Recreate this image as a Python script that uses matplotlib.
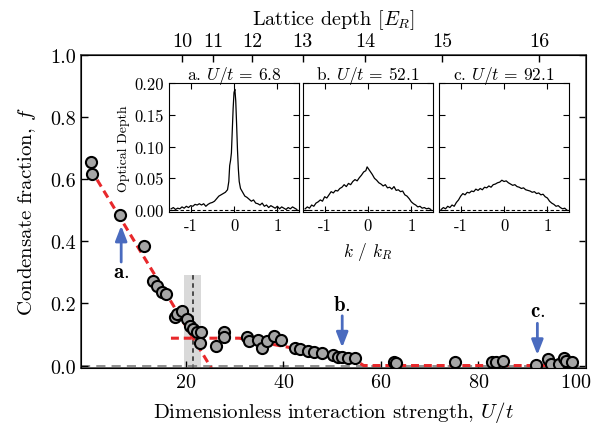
import matplotlib
matplotlib.use('Agg')
import matplotlib.pyplot as plt
from matplotlib.ticker import FixedLocator, FixedFormatter

plt.rcParams['font.family'] = 'serif'
plt.rcParams['font.serif'] = ['cmr10', 'DejaVu Serif']
plt.rcParams['mathtext.fontset'] = 'cm'
plt.rcParams['axes.unicode_minus'] = False
plt.rcParams['axes.formatter.use_mathtext'] = True

# condensate fraction vs U/t
u_data = [0.55, 0.75, 6.6, 11.5, 13.4, 14.1, 15.1, 16.0, 17.8, 18.2, 19.2, 20.3,
          20.9, 21.6, 22.3, 23.1, 23.0, 26.2, 27.9, 27.9, 32.5, 32.9, 34.9, 35.6,
          36.6, 38.1, 39.5, 42.4, 43.4, 45.1, 46.3, 47.9, 50.3, 51.3, 52.0, 53.3,
          54.7, 62.8, 63.2, 75.3, 82.7, 83.6, 85.0, 91.9, 94.3, 94.8, 96.6, 97.5,
          97.9, 99.1]
f_data = [0.654, 0.616, 0.484, 0.385, 0.273, 0.256, 0.236, 0.231, 0.157, 0.166, 0.176, 0.150,
          0.128, 0.117, 0.107, 0.109, 0.073, 0.064, 0.107, 0.091, 0.091, 0.080, 0.083, 0.058,
          0.080, 0.096, 0.083, 0.058, 0.053, 0.047, 0.044, 0.039, 0.034, 0.029, 0.026, 0.023,
          0.023, 0.010, 0.007, 0.010, 0.012, 0.013, 0.014, 0.002, 0.021, 0.004, 0.004, 0.023,
          0.015, 0.012]

# fits
fit1_u = [0.5, 26.0]
fit1_f = [0.633, -0.027]
fit2_u = [17.0, 31.0, 54.5, 56.5, 99.5]
fit2_f = [0.088, 0.088, 0.020, 0.0, 0.0]

# critical point and uncertainty band
u_crit = 21.45
band_lo, band_hi, band_top = 19.7, 23.2, 0.29

# lattice depth axis
depth_pos = [19.3, 25.7, 33.7, 44.0, 56.8, 72.6, 92.5]
depth_lab = ['10', '11', '12', '13', '14', '15', '16']

# arrows to the insets
arrow_u = [6.8, 52.1, 92.1]
arrow_tail = [0.333, 0.160, 0.136]
arrow_head = [0.450, 0.058, 0.034]
arrow_txt = [r'$\mathbf{a.}$', r'$\mathbf{b.}$', r'$\mathbf{c.}$']
arrow_txt_f = [0.30, 0.197, 0.176]

# inset profiles
k_a = [-1.45, -1.4, -1.35, -1.3, -1.25, -1.2, -1.15, -1.1, -1.05, -1.0, -0.95, -0.9,
       -0.85, -0.8, -0.75, -0.7, -0.65, -0.6, -0.55, -0.5, -0.45, -0.4, -0.35, -0.3,
       -0.25, -0.2, -0.15, -0.12, -0.1, -0.08, -0.06, -0.04, -0.02, 0.0, 0.02, 0.04,
       0.06, 0.08, 0.1, 0.12, 0.15, 0.2, 0.25, 0.3, 0.35, 0.4, 0.45, 0.5, 0.55, 0.6,
       0.65, 0.7, 0.75, 0.8, 0.85, 0.9, 0.95, 1.0, 1.05, 1.1, 1.15, 1.2, 1.25, 1.3,
       1.35, 1.4, 1.45]
od_a = [0.002, 0.004, 0.001, 0.003, 0.002, 0.005, 0.003, 0.006, 0.004, 0.007, 0.006, 0.009,
        0.008, 0.010, 0.008, 0.010, 0.006, 0.009, 0.011, 0.012, 0.014, 0.018, 0.022, 0.024,
        0.026, 0.028, 0.032, 0.045, 0.070, 0.078, 0.090, 0.125, 0.160, 0.185, 0.190, 0.172,
        0.135, 0.095, 0.065, 0.045, 0.034, 0.028, 0.022, 0.020, 0.017, 0.014, 0.016, 0.011,
        0.010, 0.008, 0.011, 0.006, 0.008, 0.004, 0.007, 0.005, 0.003, 0.006, 0.002, 0.005,
        0.003, 0.001, 0.004, 0.002, 0.005, 0.003, 0.001]

k_b = [-1.45, -1.4, -1.35, -1.3, -1.25, -1.2, -1.15, -1.1, -1.05, -1.0, -0.95, -0.9,
       -0.85, -0.8, -0.75, -0.7, -0.65, -0.6, -0.55, -0.5, -0.45, -0.4, -0.35, -0.3,
       -0.25, -0.2, -0.15, -0.1, -0.05, -0.02, 0.0, 0.05, 0.1, 0.15, 0.2, 0.25, 0.3,
       0.35, 0.4, 0.45, 0.5, 0.55, 0.6, 0.65, 0.7, 0.75, 0.8, 0.85, 0.9, 0.95, 1.0,
       1.05, 1.1, 1.15, 1.2, 1.25, 1.3, 1.35, 1.4, 1.45]
od_b = [0.002, 0.005, 0.003, 0.008, 0.006, 0.011, 0.013, 0.016, 0.014, 0.021, 0.019, 0.024,
        0.029, 0.027, 0.031, 0.030, 0.034, 0.036, 0.040, 0.037, 0.042, 0.040, 0.045, 0.048,
        0.046, 0.051, 0.055, 0.060, 0.062, 0.068, 0.066, 0.061, 0.056, 0.050, 0.047, 0.043,
        0.041, 0.038, 0.040, 0.035, 0.036, 0.033, 0.037, 0.031, 0.032, 0.029, 0.030, 0.024,
        0.022, 0.018, 0.013, 0.010, 0.008, 0.005, 0.006, 0.003, 0.004, 0.002, 0.003, 0.001]

k_c = [-1.45, -1.4, -1.35, -1.3, -1.25, -1.2, -1.15, -1.1, -1.05, -1.0, -0.95, -0.9,
       -0.85, -0.8, -0.75, -0.7, -0.65, -0.6, -0.55, -0.5, -0.45, -0.4, -0.35, -0.3,
       -0.25, -0.2, -0.15, -0.1, -0.05, 0.0, 0.05, 0.1, 0.15, 0.2, 0.25, 0.3, 0.35,
       0.4, 0.45, 0.5, 0.55, 0.6, 0.65, 0.7, 0.75, 0.8, 0.85, 0.9, 0.95, 1.0, 1.05,
       1.1, 1.15, 1.2, 1.25, 1.3, 1.35, 1.4, 1.45]
od_c = [0.001, 0.004, 0.002, 0.006, 0.004, 0.008, 0.006, 0.012, 0.016, 0.022, 0.026, 0.024,
        0.028, 0.027, 0.030, 0.029, 0.033, 0.031, 0.034, 0.032, 0.036, 0.035, 0.038, 0.036,
        0.040, 0.041, 0.043, 0.044, 0.047, 0.045, 0.046, 0.043, 0.041, 0.039, 0.040, 0.037,
        0.036, 0.034, 0.035, 0.032, 0.031, 0.030, 0.028, 0.029, 0.026, 0.027, 0.024, 0.025,
        0.021, 0.019, 0.014, 0.011, 0.009, 0.006, 0.007, 0.004, 0.002, 0.003, 0.0]

inset_k = [k_a, k_b, k_c]
inset_od = [od_a, od_b, od_c]
inset_titles = ['a. $U/t$ = 6.8', 'b. $U/t$ = 52.1', 'c. $U/t$ = 92.1']

red = '#e8282b'
blue = '#4a6bbf'

fig = plt.figure(figsize=(6.09, 4.31), dpi=100)
ax = fig.add_axes([0.1325, 0.1445, 0.8292, 0.7262])

ax.fill_betweenx([-0.01, band_top], band_lo, band_hi, color='#d9d9d9', lw=0, zorder=0)
ax.vlines(u_crit, -0.01, band_top, colors='0.25', linestyles=(0, (2.5, 2)), lw=1.3, zorder=1)
ax.axhline(0, color='0.45', lw=1.1, dashes=(6, 4), zorder=1)

ax.plot(fit1_u, fit1_f, color=red, lw=2.2, dashes=(2.6, 1.6), zorder=2)
ax.plot(fit2_u, fit2_f, color=red, lw=2.2, dashes=(2.6, 1.6), zorder=2)
ax.plot(u_data, f_data, 'o', ms=8, mfc='#a6a6a6', mec='black', mew=1.5, zorder=3)

for u, t0, t1, s, fy in zip(arrow_u, arrow_tail, arrow_head, arrow_txt, arrow_txt_f):
    ax.annotate('', xy=(u, t1), xytext=(u, t0),
                arrowprops=dict(arrowstyle='-|>,head_width=0.35,head_length=0.9',
                                color=blue, lw=2, shrinkA=0, shrinkB=0), zorder=4)
    ax.text(u, fy, s, ha='center', va='center', fontsize=15)

ax.set_xlim(-1.5, 102)
ax.set_ylim(-0.007, 1.0)
ax.set_xticks([20, 40, 60, 80, 100])
ax.set_yticks([0.0, 0.2, 0.4, 0.6, 0.8, 1.0])
ax.set_yticklabels(['0.0', '0.2', '0.4', '0.6', '0.8', '1.0'])
ax.tick_params(direction='in', length=5, width=1, labelsize=14.5, right=True, top=False)
ax.set_xlabel('Dimensionless interaction strength, $U/t$', fontsize=15, labelpad=6)
ax.set_ylabel('Condensate fraction, $f$', fontsize=15, labelpad=9)
for sp in ax.spines.values():
    sp.set_linewidth(1.2)
    sp.set_color('0.25')

top = ax.twiny()
top.set_xlim(ax.get_xlim())
top.xaxis.set_major_locator(FixedLocator(depth_pos))
top.xaxis.set_major_formatter(FixedFormatter(depth_lab))
top.tick_params(direction='in', length=5, width=1, labelsize=14.5)
top.set_xlabel('Lattice depth $[E_R]$', fontsize=14.5, labelpad=6)

inset_left = [0.2775, 0.4975, 0.7209]
for i in range(3):
    ins = fig.add_axes([inset_left[i], 0.5058, 0.2135, 0.2993])
    ins.plot(inset_k[i], inset_od[i], color='black', lw=0.9)
    ins.axhline(0, color='black', lw=0.8, dashes=(3, 2))
    ins.set_xlim(-1.5, 1.5)
    ins.set_ylim(-0.003, 0.2)
    ins.set_xticks([-1, 0, 1])
    ins.set_xticklabels(['-1', '0', '1'])
    ins.set_yticks([0.0, 0.05, 0.1, 0.15, 0.2])
    ins.tick_params(direction='in', length=4, width=0.8, labelsize=12,
                    top=True, right=True, pad=4)
    if i == 0:
        ins.set_yticklabels(['0.00', '0.05', '0.10', '0.15', '0.20'])
        ins.set_ylabel('Optical Depth', fontsize=10, labelpad=3)
    else:
        ins.set_yticklabels([])
    if i == 1:
        ins.set_xlabel('$k$ / $k_R$', fontsize=12.5, labelpad=5)
    ins.set_title(inset_titles[i], fontsize=12.5, pad=3)

fig.savefig('out.png', dpi=100)
